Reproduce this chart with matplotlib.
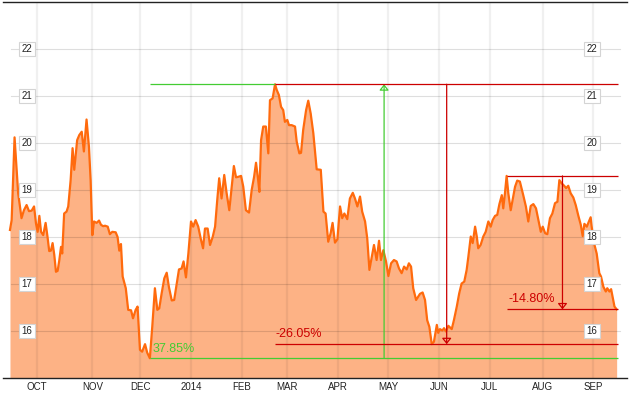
import matplotlib
matplotlib.use("Agg")
import matplotlib.pyplot as plt
import matplotlib.transforms as mtransforms

# trading-day index (0 = first trading day of Oct 2013) and closing price
day_idx = [-11.2, -10.5, -9.3, -7.8, -6.4, -5.4, -4.3, -3.3, -2.2, -1.2, -0.4, 0.3, 1.0, 1.7, 2.6,
           3.6, 4.4, 5.1, 5.8, 6.5, 7.2, 7.9, 8.6, 9.3, 10.0, 10.5, 11.3, 12.3, 13.0, 14.0,
           14.8, 15.5, 16.7, 17.6, 18.6, 19.5, 20.6, 21.6, 22.3, 23.0, 23.7, 24.8, 25.8, 26.6, 27.5,
           28.3, 29.4, 30.3, 31.3, 32.7, 33.5, 34.2, 34.9, 35.6, 36.9, 37.9, 39.1, 39.9, 41.0, 41.8,
           42.8, 43.7, 44.9, 45.8, 46.9, 47.9, 49.0, 50.0, 50.8, 51.8, 52.9, 53.9, 54.8, 56.0, 57.0,
           58.0, 59.0, 60.1, 60.9, 61.9, 62.9, 64.0, 64.9, 65.9, 67.0, 68.1, 69.0, 69.8, 70.9,
           71.9, 73.0, 74.0, 74.9, 75.7, 76.7, 77.8, 78.8, 79.9, 80.9, 81.8, 82.7, 83.6, 84.8, 85.7,
           86.8, 88.1, 89.2, 90.2, 91.0, 91.9, 92.4, 93.1, 94.0, 95.1, 96.1, 96.8, 97.9, 98.9, 99.6,
           100.5, 101.4, 102.3, 103.0, 104.0, 104.7, 105.8, 107.2, 107.9, 109.0, 109.7, 110.6, 111.8,
           112.7, 113.7, 114.8,
           116.2, 117.9, 119.0, 119.9, 121.0, 122.0, 122.8, 123.8, 124.8, 125.9, 126.8, 127.7, 128.9,
           130.0, 131.2, 132.1, 133.1, 134.2, 135.1, 136.3, 137.2, 138.1, 139.1, 140.0, 141.1, 142.1,
           142.9, 143.9, 145.0, 146.0, 147.1, 148.3, 149.4, 150.4, 151.5, 152.5, 153.6, 154.5, 155.4,
           156.3, 157.5,
           159.1, 160.2, 161.2, 162.1, 163.0, 164.0, 164.9, 166.1, 166.7, 167.4, 168.4, 169.1, 169.9,
           170.9, 172.3, 173.2, 174.4, 175.4, 176.4, 177.5, 178.5, 179.2, 180.2, 181.0, 182.0, 182.7,
           183.3, 184.3, 185.4, 186.4, 187.5, 188.5, 189.3, 190.3, 191.2, 192.1, 193.1, 193.7, 194.4,
           195.1, 195.8, 196.8, 197.6, 198.6, 199.5,
           200.6, 202.0, 203.1, 204.1, 205.1, 206.2, 207.3, 208.3, 209.3, 210.1, 211.1, 212.0, 213.1,
           214.1, 215.2, 216.2, 217.0, 218.0, 219.0, 219.8, 220.7, 221.7, 222.8, 223.8, 224.9, 225.9,
           226.7, 227.4, 228.4, 229.3, 230.0, 230.4, 231.4, 232.5, 233.6, 234.3, 235.3, 236.3, 236.9,
           237.8, 238.5, 239.2, 239.9, 240.8]
close = [18.15, 18.36, 20.12, 18.93, 18.40, 18.57, 18.68, 18.55, 18.56, 18.65, 18.29, 18.11, 18.45, 18.11, 18.04,
         18.30, 18.00, 17.70, 17.71, 17.87, 17.62, 17.26, 17.28, 17.51, 17.79, 17.65, 18.50, 18.54, 18.65, 19.21,
         19.89, 19.43, 20.06, 20.17, 20.24, 19.82, 20.50, 19.92, 19.21, 18.04, 18.33, 18.30, 18.35, 18.26, 18.23,
         18.24, 18.22, 18.06, 18.11, 18.10, 18.00, 17.71, 17.85, 17.16, 16.91, 16.45, 16.44, 16.27, 16.45, 16.52,
         15.60, 15.56, 15.72, 15.54, 15.42, 16.09, 16.91, 16.45, 16.48, 16.80, 17.12, 17.24, 16.94, 16.65, 16.66,
         16.98, 17.31, 17.33, 17.48, 17.14, 17.65, 18.33, 18.22, 18.36, 18.22, 17.95, 17.76, 18.18, 18.18,
         17.83, 18.00, 18.22, 18.79, 19.25, 18.82, 19.32, 18.93, 18.57, 19.07, 19.51, 19.27, 19.28, 19.30, 19.07,
         18.57, 18.52, 19.00, 19.28, 19.58, 19.21, 18.96, 20.06, 20.35, 20.35, 19.78, 20.91, 20.95, 21.25, 21.13,
         21.02, 20.77, 20.70, 20.45, 20.49, 20.38, 20.38, 20.35, 20.03, 19.78, 19.79, 20.28, 20.70,
         20.90, 20.63, 20.21,
         19.44, 19.43, 18.54, 18.50, 17.90, 18.08, 18.30, 17.88, 17.95, 18.65, 18.40, 18.50, 18.38,
         18.82, 18.94, 18.82, 18.65, 18.86, 18.54, 18.33, 17.97, 17.30, 17.58, 17.83, 17.51, 17.92,
         17.51, 17.72, 17.48, 17.17, 17.44, 17.51, 17.48, 17.33, 17.23, 17.37, 17.31, 17.44, 17.37,
         16.91, 16.66,
         16.79, 16.82, 16.66, 16.23, 16.09, 15.72, 15.77, 16.13, 15.96, 16.04, 16.01, 16.06, 15.99,
         16.11, 16.04, 16.23, 16.52, 16.80, 17.01, 17.05, 17.30, 17.58, 18.01, 17.87, 18.22, 18.01,
         17.76, 17.83, 18.01, 18.11, 18.33, 18.22, 18.36, 18.45, 18.47, 18.70, 18.89, 18.61, 18.93,
         19.30, 18.93, 18.57, 18.79, 19.07, 19.20,
         19.18, 18.89, 18.65, 18.33, 18.66, 18.70, 18.61, 18.36, 18.11, 18.22, 18.08, 18.06, 18.40,
         18.50, 18.72, 18.75, 19.21, 19.14, 19.09, 19.04, 19.09, 18.93, 18.84, 18.68, 18.45, 18.26,
         18.02, 18.28, 18.22, 18.33, 18.42, 18.23, 17.87, 17.65, 17.23, 17.16, 16.94, 16.84, 16.91,
         16.84, 16.89, 16.70, 16.52, 16.46]

month_ticks = [0, 23, 43, 64, 85, 104, 125, 146, 167, 188, 210, 231]
month_labels = ['OCT', 'NOV', 'DEC', '2014', 'FEB', 'MAR', 'APR', 'MAY', 'JUN', 'JUL', 'AUG', 'SEP']
price_ticks = [16, 17, 18, 19, 20, 21, 22]
swing_labels = ['37.85%', '-26.05%', '-14.80%']

plt.rcParams['font.family'] = ['Liberation Sans', 'DejaVu Sans']

fig = plt.figure(figsize=(6.29, 3.93), dpi=100)
ax = fig.add_axes([3 / 629, 15 / 393, 624 / 629, 376 / 393])
ax.set_xlim(-14.1, 245.1)
ax.set_ylim(15, 23)

# area + line
ax.fill_between(day_idx, close, 15, color='#fdb285', lw=0, zorder=1)
ax.plot(day_idx, close, color='#ff6a0d', lw=1.6, zorder=4, solid_joinstyle='round')

# grid
for m in month_ticks:
    ax.axvline(m, color='k', alpha=0.06, lw=1.6, zorder=2)
for p in price_ticks:
    ax.axhline(p, xmin=0.013, xmax=0.989, color='k', alpha=0.13, lw=0.8, zorder=2)

# price labels on both sides
trans = mtransforms.blended_transform_factory(ax.transAxes, ax.transData)
box = dict(boxstyle='square,pad=0.25', fc='white', ec='#d4d4d4', lw=0.8)
for p in price_ticks:
    for xa in (0.0385, 0.944):
        ax.text(xa, p, str(p), transform=trans, ha='center', va='center',
                fontsize=7, color='#222222', bbox=box, zorder=6)

# swing annotations
right_end = 241.5
green = '#44cc33'
red = '#cc0000'
i_low1 = close.index(min(close))
i_peak1 = close.index(max(close))
low2 = min(close[i_peak1:])
i_low2 = close.index(low2, i_peak1)
peak2 = max(close[i_low2:])
i_peak2 = close.index(peak2, i_low2)
low1, peak1, last = close[i_low1], close[i_peak1], close[-1]
x_low1, x_peak1, x_peak2 = day_idx[i_low1], day_idx[i_peak1], day_idx[i_peak2]

def arrow(x, y0, y1, col):
    ax.annotate('', xy=(x, y1), xytext=(x, y0), zorder=5,
                arrowprops=dict(arrowstyle='-|>,head_length=0.35,head_width=0.28',
                                color=col, fc='none', lw=0.9, shrinkA=0, shrinkB=0))

# rise low1 -> peak1
ax.hlines(low1, x_low1, right_end, color=green, lw=0.9, zorder=5)
ax.hlines(peak1, x_low1, x_peak1, color=green, lw=0.9, zorder=5)
arrow((x_low1 + right_end) / 2, low1, peak1, green)
ax.annotate(swing_labels[0], (x_low1, low1), xytext=(2, 2),
            textcoords='offset points', color=green, fontsize=9, va='bottom', zorder=6)

# fall peak1 -> low2
ax.hlines(peak1, x_peak1, right_end, color=red, lw=0.9, zorder=5)
ax.hlines(low2, x_peak1, right_end, color=red, lw=0.9, zorder=5)
arrow((x_peak1 + right_end) / 2, peak1, low2, red)
ax.annotate(swing_labels[1], (x_peak1, low2), xytext=(0.5, 3),
            textcoords='offset points', color=red, fontsize=9, va='bottom', zorder=6)

# fall peak2 -> last
ax.hlines(peak2, x_peak2, right_end, color=red, lw=0.9, zorder=5)
ax.hlines(last, x_peak2, right_end, color=red, lw=0.9, zorder=5)
arrow((x_peak2 + right_end) / 2, peak2, last, red)
ax.annotate(swing_labels[2], (x_peak2, last), xytext=(1, 3),
            textcoords='offset points', color=red, fontsize=9, va='bottom', zorder=6)

# axes styling
ax.set_xticks(month_ticks)
ax.set_xticklabels(month_labels)
ax.set_yticks([])
ax.tick_params(axis='x', length=0, pad=3, labelsize=7, labelcolor='#222222')
for s in ('left', 'right'):
    ax.spines[s].set_visible(False)
for s in ('top', 'bottom'):
    ax.spines[s].set_color('#222222')
    ax.spines[s].set_linewidth(1.0)

fig.savefig('out.png', dpi=100)
